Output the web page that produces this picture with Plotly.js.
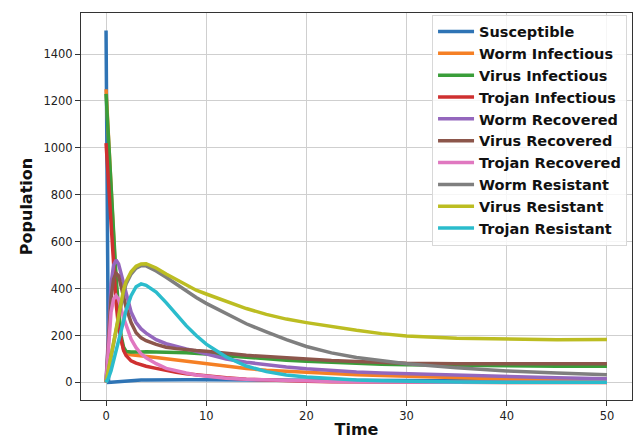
<!DOCTYPE html>
<html>
<head>
<meta charset="utf-8">
<script src="https://cdn.plot.ly/plotly-3.0.1.min.js"></script>
<style>html,body{margin:0;padding:0;background:#fff}#chart{width:643px;height:439px}</style>
</head>
<body>
<div id="chart"></div>
<script>
// Time points
const time = [0, 0.25, 0.5, 0.75, 1, 1.25, 1.5, 1.75, 2, 2.5, 3, 3.5, 4, 5, 6, 7, 8, 9, 10, 12, 14, 16, 18, 20, 22.5, 25, 27.5, 30, 35, 40, 45, 50];

const seriesNames = ["Susceptible", "Worm Infectious", "Virus Infectious", "Trojan Infectious",
  "Worm Recovered", "Virus Recovered", "Trojan Recovered", "Worm Resistant", "Virus Resistant", "Trojan Resistant"];

const susceptible     = [1500, 0, 1, 2, 3, 4, 5, 6, 7, 8, 9, 10, 10, 11, 11, 11, 11, 11, 11, 11, 10, 10, 10, 10, 9, 9, 8, 8, 7, 7, 6, 6];
const wormInfectious  = [1250, 1040, 830, 610, 420, 280, 180, 140, 125, 118, 115, 113, 110, 106, 101, 96, 91, 85, 79, 68, 59, 52, 47, 43, 38, 33, 29, 26, 20, 15, 12, 10];
const virusInfectious = [1230, 1030, 830, 620, 450, 315, 200, 150, 132, 130, 129, 130, 131, 131, 130, 128, 126, 124, 121, 114, 107, 100, 95, 90, 85, 80, 77, 75, 72, 70, 69, 69];
const trojanInfectious= [1020, 850, 690, 510, 340, 235, 175, 136, 115, 92, 82, 75, 69, 60, 50, 43, 37, 32, 28, 20, 14, 10, 7, 5, 3, 2, 1.5, 1, 0.5, 0, 0, 0];
const wormRecovered   = [0, 230, 420, 500, 522, 505, 465, 420, 380, 300, 255, 228, 210, 182, 165, 153, 143, 133, 122, 100, 86, 75, 66, 58, 50, 44, 40, 37, 30, 24, 20, 16];
const virusRecovered  = [0, 200, 360, 440, 465, 455, 410, 365, 320, 255, 212, 190, 178, 162, 150, 144, 139, 136, 133, 124, 116, 110, 104, 98, 93, 89, 85, 82, 80, 79, 79, 80];
const trojanRecovered = [0, 180, 300, 355, 370, 355, 310, 275, 245, 185, 148, 122, 105, 80, 60, 49, 40, 32, 27, 18, 13, 10, 8, 6, 4, 3, 2, 2, 1, 1, 1, 1];
const wormResistant   = [0, 55, 112, 170, 230, 290, 340, 385, 420, 462, 487, 498, 497, 475, 448, 418, 390, 362, 337, 292, 250, 215, 182, 153, 126, 106, 92, 80, 62, 49, 40, 33];
const virusResistant  = [0, 55, 115, 175, 235, 295, 350, 395, 430, 472, 495, 505, 506, 488, 462, 438, 415, 393, 377, 345, 315, 290, 270, 255, 238, 222, 208, 198, 188, 184, 182, 183];
const trojanResistant = [0, 20, 50, 90, 130, 175, 215, 262, 308, 370, 408, 420, 414, 385, 340, 290, 242, 200, 163, 108, 70, 46, 32, 23, 15, 10, 7, 5, 2, 1, 1, 1];

const seriesValues = [susceptible, wormInfectious, virusInfectious, trojanInfectious,
  wormRecovered, virusRecovered, trojanRecovered, wormResistant, virusResistant, trojanResistant];

const colors = ["#2f74b5", "#f58025", "#3a9e3a", "#cf3030", "#9467bd", "#8c564b", "#e078c0", "#7f7f7f", "#bcbd22", "#2bbccc"];

const traces = seriesNames.map((name, i) => ({
  x: time, y: seriesValues[i], name: name, type: "scatter", mode: "lines",
  legendgroup: "g" + i,
  line: {color: colors[i], width: 3.5}
}));

const font = "DejaVu Sans, sans-serif";
const layout = {
  width: 643, height: 439,
  margin: {l: 81, r: 11, t: 12.5, b: 38.8, pad: 0},
  paper_bgcolor: "#fff", plot_bgcolor: "#fff",
  font: {family: font, size: 11.5, color: "#222"},
  showlegend: true,
  legend: {
    x: 0.991, y: 0.996, xanchor: "right", yanchor: "top",
    bgcolor: "rgba(255,255,255,0.8)", bordercolor: "#d8d8d8", borderwidth: 1,
    font: {family: font, size: 14.5, color: "#111", weight: "bold"},
    tracegroupgap: 0, itemwidth: 36
  },
  xaxis: {
    range: [-2.5, 52.5], tickvals: [0, 10, 20, 30, 40, 50],
    showgrid: true, gridcolor: "#cfcfcf", gridwidth: 1, zeroline: false,
    showline: true, linecolor: "#333", linewidth: 1, mirror: true,
    ticks: "outside", ticklen: 5, tickcolor: "#333", tickwidth: 1,
    tickfont: {family: font, size: 11.5, color: "#222"},
    title: {text: "Time", font: {family: font, size: 16, color: "#111", weight: "bold"}, standoff: 6}
  },
  yaxis: {
    range: [-75, 1575], tickvals: [0, 200, 400, 600, 800, 1000, 1200, 1400],
    showgrid: true, gridcolor: "#cfcfcf", gridwidth: 1, zeroline: false,
    showline: true, linecolor: "#333", linewidth: 1, mirror: true,
    ticks: "outside", ticklen: 5, tickcolor: "#333", tickwidth: 1,
    tickfont: {family: font, size: 11.5, color: "#222"},
    title: {text: "Population", font: {family: font, size: 16, color: "#111", weight: "bold"}, standoff: 6}
  }
};

Plotly.newPlot("chart", traces, layout, {displayModeBar: false, staticPlot: true});
</script>
</body>
</html>
